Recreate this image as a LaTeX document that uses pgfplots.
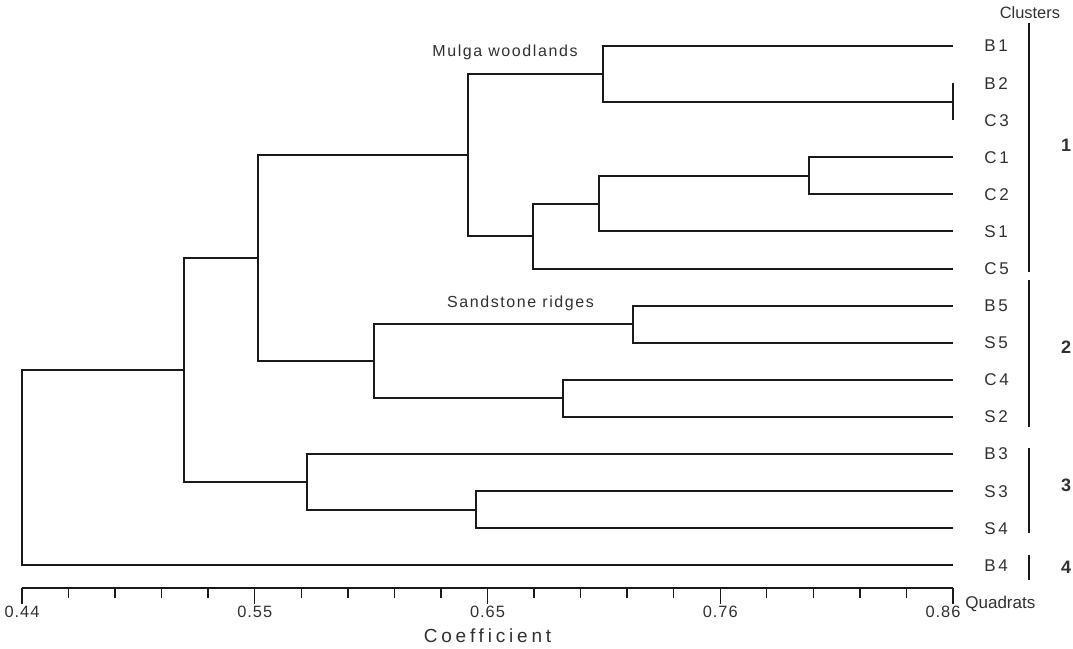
\documentclass[border=0pt]{standalone}
\usepackage{fontspec}
\setmainfont{Liberation Sans}
\newfontfamily\leaffont[LetterSpace=16]{Liberation Sans}
\newfontfamily\tickfont[LetterSpace=6]{Liberation Sans}
\newfontfamily\notefont[LetterSpace=10]{Liberation Sans}
\newfontfamily\coeffont[LetterSpace=20]{Liberation Sans}
\usepackage{pgfplots}
\pgfplotsset{compat=1.18}
\definecolor{ink}{HTML}{1A1A1A}
\definecolor{txt}{HTML}{303030}
\begin{document}
\begin{tikzpicture}
\begin{axis}[
  scale only axis, width=465.5pt, height=278.25pt,
  xmin=0.44, xmax=0.86, ymin=-15.6, ymax=-0.6,
  clip=false,
  axis x line*=bottom, axis y line=none,
  axis line style={ink, line width=1pt},
  xtick={0.44,0.545,0.65,0.755,0.86},
  xticklabels={0.44,0.55,0.65,0.76,{\hspace*{-10pt}0.86}},
  minor xtick={0.461,0.482,0.503,0.524,0.566,0.587,0.608,0.629,0.671,0.692,0.713,0.734,0.776,0.797,0.818,0.839},
  tick align=outside,
  major tick length=8pt, minor tick length=5pt,
  every tick/.style={ink, line width=0.7pt},
  /pgf/number format/assume math mode=true,
  xticklabel style={font=\tickfont\fontsize{8.2}{9}\selectfont, text=txt, inner sep=1pt},
  br/.style={ink, line width=1pt, mark=none, solid, line join=miter},
  cb/.style={ink, line width=1.2pt, mark=none, solid},
]
% dendrogram branches (x = coefficient, y = -leaf index)
\addplot[br] coordinates {(0.86,-2) (0.86,-3)};
\addplot[br] coordinates {(0.86,-1) (0.7022,-1) (0.7022,-2.5) (0.86,-2.5)};
\addplot[br] coordinates {(0.86,-4) (0.7952,-4) (0.7952,-5) (0.86,-5)};
\addplot[br] coordinates {(0.7952,-4.5) (0.7003,-4.5) (0.7003,-6) (0.86,-6)};
\addplot[br] coordinates {(0.7003,-5.25) (0.6704,-5.25) (0.6704,-7) (0.86,-7)};
\addplot[br] coordinates {(0.7022,-1.75) (0.6411,-1.75) (0.6411,-6.125) (0.6704,-6.125)};
\addplot[br] coordinates {(0.86,-8) (0.7158,-8) (0.7158,-9) (0.86,-9)};
\addplot[br] coordinates {(0.86,-10) (0.6842,-10) (0.6842,-11) (0.86,-11)};
\addplot[br] coordinates {(0.7158,-8.5) (0.5988,-8.5) (0.5988,-10.5) (0.6842,-10.5)};
\addplot[br] coordinates {(0.6411,-3.9375) (0.5466,-3.9375) (0.5466,-9.5) (0.5988,-9.5)};
\addplot[br] coordinates {(0.86,-13) (0.6448,-13) (0.6448,-14) (0.86,-14)};
\addplot[br] coordinates {(0.86,-12) (0.5684,-12) (0.5684,-13.5) (0.6448,-13.5)};
\addplot[br] coordinates {(0.5466,-6.71875) (0.5132,-6.71875) (0.5132,-12.75) (0.5684,-12.75)};
\addplot[br] coordinates {(0.5132,-9.734) (0.44,-9.734) (0.44,-15) (0.86,-15)};
% cluster bars
\addplot[cb] coordinates {(0.89428,-0.38) (0.89428,-7.09)};
\addplot[cb] coordinates {(0.89428,-7.30) (0.89428,-11.27)};
\addplot[cb] coordinates {(0.89428,-11.83) (0.89428,-14.13)};
\addplot[cb] coordinates {(0.89428,-14.72) (0.89428,-15.40)};
% leaf labels
\foreach \lab [count=\i] in {B1,B2,C3,C1,C2,S1,C5,B5,S5,C4,S2,B3,S3,S4,B4}{
  \edef\tmp{\noexpand\node[anchor=west, inner sep=0pt, text=txt, font=\noexpand\leaffont\noexpand\fontsize{8.5}{9}\noexpand\selectfont] at (axis cs:0.87399,-\i) {\lab};}
  \tmp
}
% cluster numbers
\node[font=\bfseries\fontsize{9}{10}\selectfont, text=txt] at (axis cs:0.91098,-3.67) {1};
\node[font=\bfseries\fontsize{9}{10}\selectfont, text=txt] at (axis cs:0.91098,-9.11) {2};
\node[font=\bfseries\fontsize{9}{10}\selectfont, text=txt] at (axis cs:0.91098,-12.83) {3};
\node[font=\bfseries\fontsize{9}{10}\selectfont, text=txt] at (axis cs:0.91098,-15.04) {4};
\node[font=\fontsize{8.2}{10}\selectfont, text=txt] at (axis cs:0.8947,-0.1105) {Clusters};
\node[anchor=west, inner sep=0pt, font=\fontsize{8.5}{10}\selectfont, text=txt] at (axis cs:0.86542,-16.04) {Quadrats};
\node[font=\notefont\fontsize{8}{9}\selectfont, text=txt] at (axis cs:0.6579,-1.18) {Mulga woodlands};
\node[font=\notefont\fontsize{8}{9}\selectfont, text=txt] at (axis cs:0.6649,-7.927) {Sandstone ridges};
\node[font=\coeffont\fontsize{9.5}{11}\selectfont, text=txt] at (axis cs:0.65,-16.90) {Coefficient};
\coordinate (bl) at (axis cs:0.43008,-17.253);
\coordinate (tr) at (axis cs:0.91414,0.2399);
\end{axis}
\pgfresetboundingbox
\useasboundingbox (bl) rectangle (tr);
\end{tikzpicture}
\end{document}
